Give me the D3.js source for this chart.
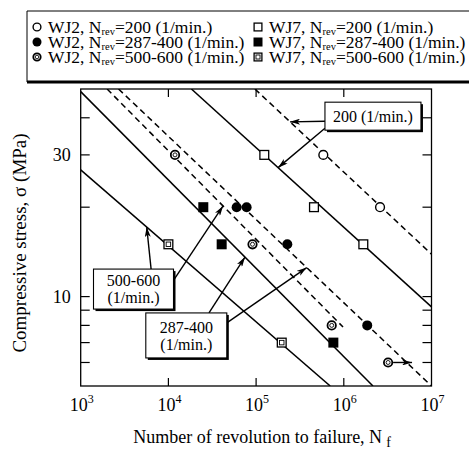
<!DOCTYPE html>
<html>
<head>
<meta charset="utf-8">
<script src="https://cdn.jsdelivr.net/npm/d3@7"></script>
<style>
  body { margin: 0; background: #fff; }
  svg { display: block; }
  text { font-family: "Liberation Serif", "Times New Roman", serif; fill: #000; }
</style>
</head>
<body>
<svg id="chart" width="469" height="451"></svg>
<script>
// ---- data: [revolutions to failure N_f, compressive stress (MPa)] ----
const wj2_200 = [[5.84e5, 30], [2.59e6, 20]];
const wj2_287 = [[6.0e4, 20], [7.8e4, 20], [2.27e5, 15], [1.85e6, 8]];
const wj2_500 = [[1.19e4, 30], [9.1e4, 15], [7.28e5, 8], [3.2e6, 6]];
const wj7_200 = [[1.24e5, 30], [4.57e5, 20], [1.67e6, 15]];
const wj7_287 = [[2.5e4, 20], [4.05e4, 15], [7.6e5, 7]];
const wj7_500 = [[1.0e4, 15], [1.96e5, 7]];

// run-out specimen (did not fail): start point and arrow end
const runout = [[3.2e6, 6], [6.0e6, 6]];

// fitted S-N lines, end points [N, stress]
const fitWJ2_200 = [[9.7e4, 50], [1e7, 13.9]];
const fitWJ2_287 = [[2.7e3, 50], [1e7, 5]];
const fitWJ2_500 = [[2.0e3, 50], [9.8e5, 7.9]];
const fitWJ7_200 = [[1.83e4, 50], [1e7, 9.23]];
const fitWJ7_287 = [[1e3, 49], [2.15e6, 5]];
const fitWJ7_500 = [[1e3, 26.7], [7.0e5, 5]];

// legend text
const legendMachine = ["WJ2", "WJ2", "WJ2", "WJ7", "WJ7", "WJ7"];
const legendSpeed = ["200", "287-400", "500-600", "200", "287-400", "500-600"];

// axis ticks
const xTickExponents = [3, 4, 5, 6, 7];
const yTickValues = [6, 7, 8, 9, 10, 20, 30, 40];
const yTickLabels = [10, 30];

// callouts: label lines, box anchor [N, stress], arrow targets (N on a fitted line)
const callout200 = { lines: ["200 (1/min.)"], at: [2.15e6, 40.5], targets: [[2.44e5, "wj2_200"], [1.78e5, "wj7_200"]] };
const callout500 = { lines: ["500-600", "(1/min.)"], at: [4.0e3, 10.6], targets: [[5.66e3, "wj7_500"], [4.2e4, "wj2_500"]] };
const callout287 = { lines: ["287-400", "(1/min.)"], at: [1.6e4, 7.4], targets: [[7.47e4, "wj7_287"], [3.78e5, "wj2_287"]] };

// ---- layout ----
const svg = d3.select("#chart");
const plotL = 80.7, plotR = 431.5, plotT = 89, plotB = 386;

const x = d3.scaleLog().domain([1e3, 1e7]).range([plotL, plotR]);
const y = d3.scaleLog().domain([5, 50]).range([plotB, plotT]);

const series = [
  { key: "wj2_200", pts: wj2_200, sym: "circleOpen" },
  { key: "wj2_287", pts: wj2_287, sym: "circleFilled" },
  { key: "wj2_500", pts: wj2_500, sym: "circleDot" },
  { key: "wj7_200", pts: wj7_200, sym: "squareOpen" },
  { key: "wj7_287", pts: wj7_287, sym: "squareFilled" },
  { key: "wj7_500", pts: wj7_500, sym: "squareDot" }
];

const fits = {
  wj2_200: { pts: fitWJ2_200, dashed: true },
  wj2_287: { pts: fitWJ2_287, dashed: true },
  wj2_500: { pts: fitWJ2_500, dashed: true },
  wj7_200: { pts: fitWJ7_200, dashed: false },
  wj7_287: { pts: fitWJ7_287, dashed: false },
  wj7_500: { pts: fitWJ7_500, dashed: false }
};

// arrowhead
const defs = svg.append("defs");
defs.append("marker")
  .attr("id", "head")
  .attr("viewBox", "0 0 10 6")
  .attr("refX", 10).attr("refY", 3)
  .attr("markerWidth", 11).attr("markerHeight", 6)
  .attr("markerUnits", "userSpaceOnUse")
  .attr("orient", "auto")
  .append("path").attr("d", "M0,0 L10,3 L0,6 L2.5,3 Z").attr("fill", "#000");

// ---- legend box ----
const lg = svg.append("g");
lg.append("path")
  .attr("d", "M480,11 H27 V82 H480")
  .attr("fill", "none").attr("stroke", "#000").attr("stroke-width", 1);
lg.append("line")
  .attr("x1", 27).attr("x2", 480).attr("y1", 82).attr("y2", 82)
  .attr("stroke", "#000").attr("stroke-width", 3);

// ---- plot clip ----
defs.append("clipPath").attr("id", "plotClip")
  .append("rect").attr("x", plotL).attr("y", plotT).attr("width", plotR - plotL).attr("height", plotB - plotT);

// ---- frame ----
svg.append("rect")
  .attr("x", plotL).attr("y", plotT).attr("width", plotR - plotL).attr("height", plotB - plotT)
  .attr("fill", "none").attr("stroke", "#000").attr("stroke-width", 1.3);

// y ticks (inward on both sides)
const tickLen = 9;
yTickValues.forEach(v => {
  svg.append("line").attr("x1", plotL).attr("x2", plotL + tickLen).attr("y1", y(v)).attr("y2", y(v))
    .attr("stroke", "#000").attr("stroke-width", 1.2);
  svg.append("line").attr("x1", plotR - tickLen).attr("x2", plotR).attr("y1", y(v)).attr("y2", y(v))
    .attr("stroke", "#000").attr("stroke-width", 1.2);
});
yTickLabels.forEach(v => {
  svg.append("text").attr("x", plotL - 10).attr("y", y(v)).attr("dy", "0.35em")
    .attr("text-anchor", "end").attr("font-size", 18).text(v);
});

// x ticks (inward, bottom and top)
xTickExponents.forEach(e => {
  const v = Math.pow(10, e);
  if (v > 1e3 && v < 1e7) {
    svg.append("line").attr("x1", x(v)).attr("x2", x(v)).attr("y1", plotB).attr("y2", plotB - 8)
      .attr("stroke", "#000").attr("stroke-width", 1.2);
    svg.append("line").attr("x1", x(v)).attr("x2", x(v)).attr("y1", plotT).attr("y2", plotT + 8)
      .attr("stroke", "#000").attr("stroke-width", 1.2);
  }
  const t = svg.append("text").attr("x", x(v) + 1).attr("y", 411)
    .attr("text-anchor", "middle").attr("font-size", 18);
  t.append("tspan").text("10");
  t.append("tspan").attr("font-size", 12).attr("dy", -8).text(e);
});

// axis titles
const xt = svg.append("text").attr("x", 262).attr("y", 443).attr("text-anchor", "middle").attr("font-size", 18);
xt.append("tspan").text("Number of revolution to failure, N");
xt.append("tspan").attr("font-size", 14).attr("dx", 4).attr("dy", 4).text("f");

svg.append("text")
  .attr("transform", "translate(26,243) rotate(-90)")
  .attr("text-anchor", "middle").attr("font-size", 19)
  .text("Compressive stress, \u03c3 (MPa)");

// ---- fitted lines ----
const plot = svg.append("g").attr("clip-path", "url(#plotClip)");
const lineGen = d3.line().x(d => x(d[0])).y(d => y(d[1]));
Object.values(fits).forEach(f => {
  plot.append("path").attr("d", lineGen(f.pts))
    .attr("fill", "none").attr("stroke", "#000").attr("stroke-width", 1.5)
    .attr("stroke-dasharray", f.dashed ? "6,4" : null);
});

// stress on a fitted line at a given N (straight in log-log)
function onFit(key, n) {
  const [[n0, s0], [n1, s1]] = fits[key].pts;
  const t = (Math.log(n) - Math.log(n0)) / (Math.log(n1) - Math.log(n0));
  return Math.exp(Math.log(s0) + t * (Math.log(s1) - Math.log(s0)));
}

// ---- symbols ----
function drawSymbol(g, sym, cx, cy, s) {
  const r = s / 2;
  if (sym === "circleOpen") {
    g.append("circle").attr("cx", cx).attr("cy", cy).attr("r", r - 0.6)
      .attr("fill", "#fff").attr("stroke", "#000").attr("stroke-width", 1.4);
  } else if (sym === "circleFilled") {
    g.append("circle").attr("cx", cx).attr("cy", cy).attr("r", r).attr("fill", "#000");
  } else if (sym === "circleDot") {
    g.append("circle").attr("cx", cx).attr("cy", cy).attr("r", r - 0.8)
      .attr("fill", "#fff").attr("stroke", "#000").attr("stroke-width", 1.8);
    g.append("circle").attr("cx", cx).attr("cy", cy).attr("r", r * 0.4)
      .attr("fill", "none").attr("stroke", "#000").attr("stroke-width", 0.9);
  } else if (sym === "squareOpen") {
    g.append("rect").attr("x", cx - r + 0.6).attr("y", cy - r + 0.6).attr("width", s - 1.2).attr("height", s - 1.2)
      .attr("fill", "#fff").attr("stroke", "#000").attr("stroke-width", 1.3);
  } else if (sym === "squareFilled") {
    g.append("rect").attr("x", cx - r).attr("y", cy - r).attr("width", s).attr("height", s).attr("fill", "#000");
  } else if (sym === "squareDot") {
    g.append("rect").attr("x", cx - r + 0.6).attr("y", cy - r + 0.6).attr("width", s - 1.2).attr("height", s - 1.2)
      .attr("fill", "#fff").attr("stroke", "#000").attr("stroke-width", 1.3);
    g.append("rect").attr("x", cx - r * 0.45).attr("y", cy - r * 0.45).attr("width", r * 0.9).attr("height", r * 0.9)
      .attr("fill", "none").attr("stroke", "#000").attr("stroke-width", 0.9);
  }
}

const marks = svg.append("g");
series.forEach(se => {
  se.pts.forEach(p => drawSymbol(marks, se.sym, x(p[0]), y(p[1]), 10));
});

// run-out arrow
svg.append("line")
  .attr("x1", x(runout[0][0]) + 5).attr("y1", y(runout[0][1]))
  .attr("x2", x(runout[1][0])).attr("y2", y(runout[1][1]))
  .attr("stroke", "#000").attr("stroke-width", 1.4).attr("marker-end", "url(#head)");

// ---- callouts ----
function drawCallout(c, w, h, starts) {
  const cx = x(c.at[0]), cy = y(c.at[1]);
  const bx = cx - w / 2, by = cy - h / 2;
  const g = svg.append("g");
  c.targets.forEach((tg, i) => {
    const [fx, fy] = starts[i];
    g.append("line")
      .attr("x1", bx + fx * w).attr("y1", by + fy * h)
      .attr("x2", x(tg[0])).attr("y2", y(onFit(tg[1], tg[0])))
      .attr("stroke", "#000").attr("stroke-width", 1.4).attr("marker-end", "url(#head)");
  });
  g.append("rect").attr("x", bx + 2).attr("y", by + 2).attr("width", w).attr("height", h).attr("fill", "#000");
  g.append("rect").attr("x", bx).attr("y", by).attr("width", w).attr("height", h)
    .attr("fill", "#fff").attr("stroke", "#000").attr("stroke-width", 1.1);
  const lh = 17;
  const y0 = cy - (c.lines.length - 1) * lh / 2;
  c.lines.forEach((s, i) => {
    g.append("text").attr("x", cx).attr("y", y0 + i * lh).attr("dy", "0.35em")
      .attr("text-anchor", "middle").attr("font-size", 16).text(s);
  });
}
drawCallout(callout200, 96, 28, [[0, 0.68], [0, 0.93]]);
drawCallout(callout500, 80, 40, [[0.72, 0], [1, 0.28]]);
drawCallout(callout287, 81, 45, [[0.78, 0], [1, 0.22]]);

// ---- legend entries ----
const legendRowY = [27, 42, 57];
const legendColX = [37, 258];
series.forEach((se, i) => {
  const col = Math.floor(i / 3), row = i % 3;
  const sx = legendColX[col], sy = legendRowY[row];
  drawSymbol(lg, se.sym, sx, sy, 9);
  const t = lg.append("text").attr("x", sx + 11).attr("y", sy + 5.5).attr("font-size", 17.5);
  t.append("tspan").text(legendMachine[i] + ", N");
  t.append("tspan").attr("font-size", 10.5).attr("dy", 2.5).text("rev");
  t.append("tspan").attr("dy", -2.5).text("=" + legendSpeed[i] + " (1/min.)");
});
</script>
</body>
</html>
